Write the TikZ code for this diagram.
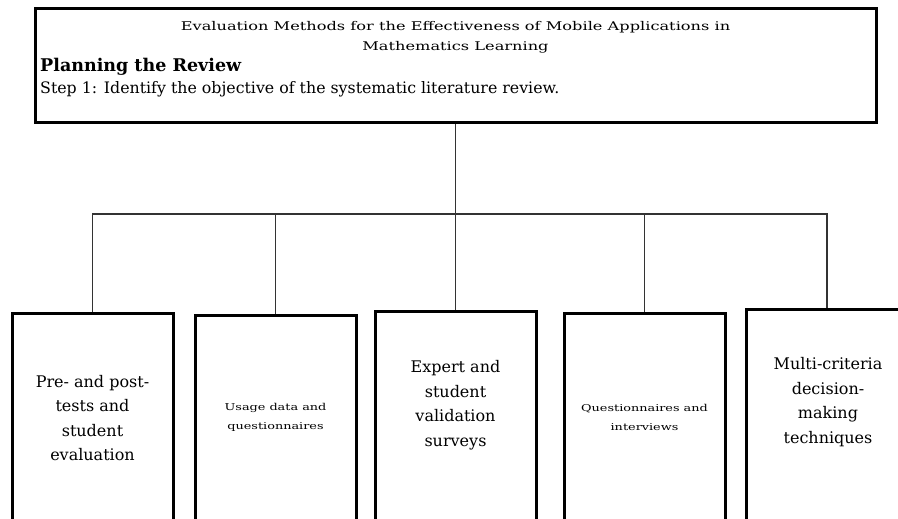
\documentclass[tikz,border=0pt]{standalone}
\usepackage{fontspec}
\setmainfont{DejaVu Serif}
\newfontfamily\widefont[FakeStretch=1.35]{DejaVu Serif}
\begin{document}
\begin{tikzpicture}[x=1pt,y=-1pt,
  frame/.style={draw, line width=3pt, inner sep=0pt},
  box/.style={frame, minimum width=161pt, minimum height=230pt, anchor=north},
  conn/.style={line width=1.6pt, draw=black!80},
  big/.style={align=center, font=\fontsize{16}{24.5}\selectfont},
  small/.style={align=center, font=\widefont\fontsize{9.5}{19}\selectfont}]
\useasboundingbox (0,0) rectangle (898,519);
\clip (0,0) rectangle (898,519);
% top box
\node[frame, minimum width=841pt, minimum height=114pt] (top) at (455.5,66) {};
\node[align=center, font=\widefont\fontsize{12}{20}\selectfont] (title) at (455.5,37)
  {Evaluation Methods for the Effectiveness of Mobile Applications in\\Mathematics Learning};
\node[anchor=west, inner sep=0pt, font=\bfseries\fontsize{17.5}{18}\selectfont] (plan) at (40,67) {Planning the Review};
\node[anchor=west, inner sep=0pt, font=\fontsize{15.8}{16}\selectfont] (step) at (40,89)
  {Step 1: Identify the objective of the systematic literature review.};
% lower boxes
\node[box] (b1) at (92.5,312) {};
\node[box] (b2) at (275.5,314) {};
\node[box] (b3) at (455.5,310) {};
\node[box] (b4) at (644.5,312) {};
\node[box] (b5) at (827,308) {};
\node[big] (t1) at (92.5,418) {Pre- and post-\\tests and\\student\\evaluation};
\node[small] (t2) at (275.5,417) {Usage data and\\questionnaires};
\node[big] (t3) at (455.5,405) {Expert and\\student\\validation\\surveys};
\node[small] (t4) at (644.5,417) {Questionnaires and\\interviews};
\node[big] (t5) at (828,402) {Multi-criteria\\decision-\\making\\techniques};
% connectors
\coordinate (bus) at (0,214);
\draw[conn] (top.south) -- (top.south |- bus);
\draw[conn] (b1.north) -- (b1.north |- bus) -- (b5.north |- bus) -- (b5.north);
\draw[conn] (b2.north) -- (b2.north |- bus);
\draw[conn] (b3.north) -- (b3.north |- bus);
\draw[conn] (b4.north) -- (b4.north |- bus);
\end{tikzpicture}
\end{document}
